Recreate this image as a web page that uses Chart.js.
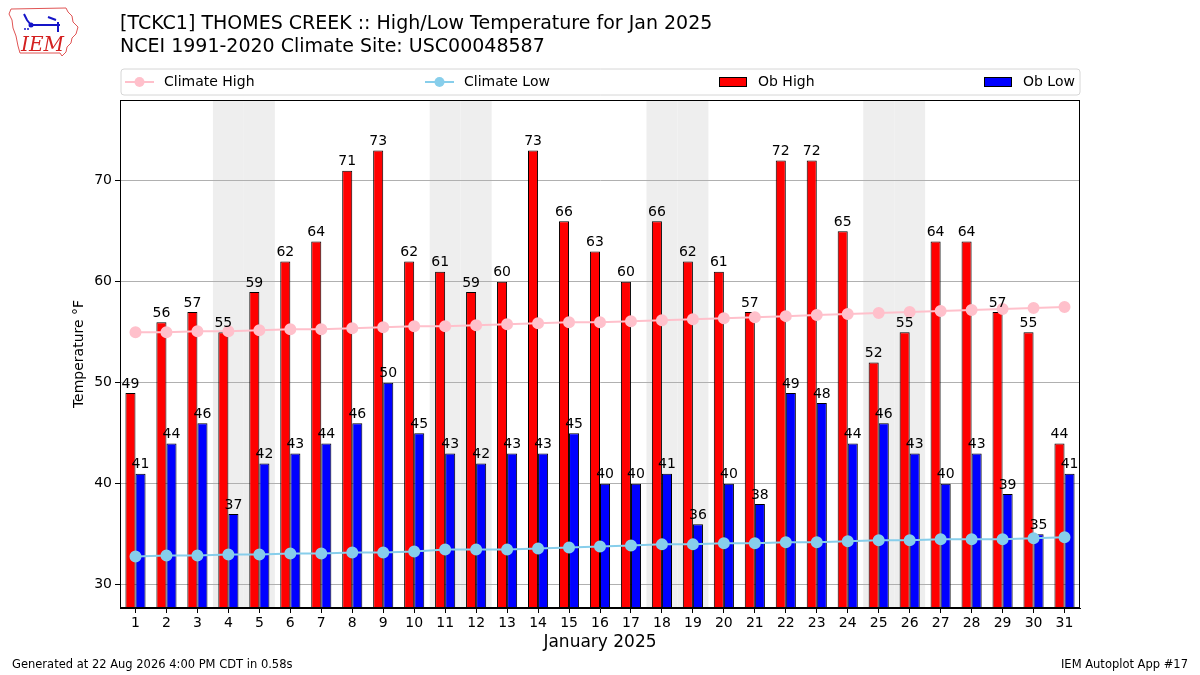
<!DOCTYPE html>
<html>
<head>
<meta charset="utf-8">
<script src="https://cdn.jsdelivr.net/npm/chart.js@4.4.1/dist/chart.umd.min.js"></script>
<style>
  html, body { margin: 0; padding: 0; background: #fff; }
  #wrap { width: 1200px; height: 675px; }
</style>
</head>
<body>
<div id="wrap"><canvas id="chart" width="1200" height="675"></canvas></div>
<script>
// TCKC1 Thomes Creek, January 2025
const days = ['1','2','3','4','5','6','7','8','9','10','11','12','13','14','15','16',
              '17','18','19','20','21','22','23','24','25','26','27','28','29','30','31'];
const obHigh = [49,56,57,55,59,62,64,71,73,62,61,59,60,73,66,63,60,66,62,61,57,72,72,65,52,55,64,64,57,55,44];
const obLow = [41,44,46,37,42,43,44,46,50,45,43,42,43,43,45,40,40,41,36,40,38,49,48,44,46,43,40,43,39,35,41];
const climateHigh = [55.0,55.0,55.1,55.1,55.2,55.3,55.3,55.4,55.5,55.6,55.6,55.7,55.8,55.9,56.0,56.0,
                     56.1,56.2,56.3,56.4,56.5,56.6,56.7,56.8,56.9,57.0,57.1,57.2,57.3,57.4,57.5];
const climateLow = [32.8,32.9,32.9,33.0,33.0,33.1,33.1,33.2,33.2,33.3,33.5,33.5,33.5,33.6,33.7,33.8,
                    33.9,34.0,34.0,34.1,34.1,34.2,34.2,34.3,34.4,34.4,34.5,34.5,34.5,34.6,34.7];
const weekendDays = ['4','5','11','12','18','19','25','26'];
const yTicks = [30, 40, 50, 60, 70];

const titleLines = [
    '[TCKC1] THOMES CREEK :: High/Low Temperature for Jan 2025',
    'NCEI 1991-2020 Climate Site: USC00048587'
];
const footerLeft = 'Generated at 22 Aug 2026 4:00 PM CDT in 0.58s';
const footerRight = 'IEM Autoplot App #17';

const FONT = '"DejaVu Sans", Verdana, sans-serif';

function drawLogo(ctx) {
    ctx.save();
    // rough Iowa outline
    ctx.strokeStyle = '#e05555';
    ctx.lineWidth = 1;
    ctx.beginPath();
    ctx.moveTo(11, 9);
    ctx.lineTo(66, 8);
    ctx.lineTo(68, 12);
    ctx.lineTo(72, 16);
    ctx.lineTo(73, 22);
    ctx.lineTo(78, 27);
    ctx.lineTo(76, 34);
    ctx.lineTo(72, 38);
    ctx.lineTo(71, 43);
    ctx.lineTo(67, 47);
    ctx.lineTo(66, 52);
    ctx.lineTo(62, 56);
    ctx.lineTo(60, 53);
    ctx.lineTo(20, 53);
    ctx.lineTo(18, 46);
    ctx.lineTo(16, 36);
    ctx.lineTo(13, 28);
    ctx.lineTo(12, 20);
    ctx.lineTo(9, 14);
    ctx.closePath();
    ctx.stroke();
    // blue station glyph
    ctx.strokeStyle = '#1515c8';
    ctx.fillStyle = '#1515c8';
    ctx.lineWidth = 2;
    ctx.beginPath();
    ctx.moveTo(31, 25); ctx.lineTo(60, 25);
    ctx.moveTo(24, 14); ctx.lineTo(27, 20); ctx.lineTo(31, 25);
    ctx.moveTo(58, 22); ctx.lineTo(58, 32);
    ctx.moveTo(48, 17); ctx.lineTo(56, 20);
    ctx.stroke();
    ctx.beginPath(); ctx.arc(31, 25, 2.5, 0, Math.PI * 2); ctx.fill();
    ctx.beginPath(); ctx.arc(25, 29, 1, 0, Math.PI * 2); ctx.fill();
    ctx.beginPath(); ctx.arc(28, 29, 1, 0, Math.PI * 2); ctx.fill();
    // IEM text
    ctx.fillStyle = '#d42020';
    ctx.font = 'italic 20px "DejaVu Serif", "Liberation Serif", serif';
    ctx.textAlign = 'left';
    ctx.textBaseline = 'alphabetic';
    ctx.fillText('IEM', 21, 51);
    ctx.restore();
}

const decorPlugin = {
    id: 'decor',
    beforeDraw(chart) {
        const { ctx, chartArea: a, scales: { x } } = chart;
        ctx.save();
        ctx.fillStyle = '#ffffff';
        ctx.fillRect(0, 0, chart.width, chart.height);
        // weekend shading
        const half = (x.getPixelForValue(1) - x.getPixelForValue(0)) / 2;
        ctx.fillStyle = '#eeeeee';
        weekendDays.forEach(d => {
            const px = x.getPixelForValue(days.indexOf(d));
            ctx.fillRect(px - half, a.top, half * 2, a.bottom - a.top);
        });
        ctx.restore();
    },
    afterDatasetsDraw(chart) {
        // value labels over the bars
        const ctx = chart.ctx;
        ctx.save();
        ctx.font = '14px ' + FONT;
        ctx.fillStyle = '#000';
        ctx.textAlign = 'center';
        ctx.textBaseline = 'bottom';
        chart.data.datasets.forEach((ds, i) => {
            if (ds.type !== 'bar') return;
            chart.getDatasetMeta(i).data.forEach((bar, j) => {
                ctx.fillText(String(ds.data[j]), bar.x, bar.y - 2);
            });
        });
        ctx.restore();
    },
    afterDraw(chart) {
        const { ctx, chartArea: a } = chart;
        ctx.save();
        // frame
        ctx.strokeStyle = '#000';
        ctx.lineWidth = 1;
        ctx.strokeRect(a.left + 0.5, a.top + 0.5, a.right - a.left - 1, a.bottom - a.top - 1);

        // titles
        ctx.fillStyle = '#000';
        ctx.font = '19px ' + FONT;
        ctx.textAlign = 'left';
        ctx.textBaseline = 'middle';
        ctx.fillText(titleLines[0], a.left, 24);
        ctx.fillText(titleLines[1], a.left, 47);

        // legend
        const lx = a.left + 1, ly = 69, lw = a.right - a.left - 1, lh = 26;
        ctx.beginPath();
        ctx.roundRect(lx, ly, lw, lh, 3);
        ctx.fillStyle = '#ffffff';
        ctx.fill();
        ctx.strokeStyle = '#d6d6d6';
        ctx.stroke();
        const cy = ly + lh / 2;
        const slots = [125, 425, 719, 984];
        ctx.font = '14px ' + FONT;
        chart.data.datasets.forEach((ds, i) => {
            const sx = slots[i];
            if (ds.type === 'line') {
                ctx.strokeStyle = ds.borderColor;
                ctx.lineWidth = 2;
                ctx.beginPath();
                ctx.moveTo(sx, cy); ctx.lineTo(sx + 29, cy);
                ctx.stroke();
                ctx.fillStyle = ds.pointBackgroundColor;
                ctx.beginPath();
                ctx.arc(sx + 14.5, cy, 5, 0, Math.PI * 2);
                ctx.fill();
            } else {
                ctx.fillStyle = ds.backgroundColor;
                ctx.fillRect(sx, cy - 5, 28, 10);
                ctx.strokeStyle = '#000';
                ctx.lineWidth = 1;
                ctx.strokeRect(sx + 0.5, cy - 4.5, 27, 9);
            }
            ctx.fillStyle = '#000';
            ctx.textAlign = 'left';
            ctx.fillText(ds.label, sx + 39, cy);
        });

        // footer
        ctx.font = '11.5px ' + FONT;
        ctx.fillText(footerLeft, 12, 665);
        ctx.textAlign = 'right';
        ctx.fillText(footerRight, 1188, 665);

        drawLogo(ctx);
        ctx.restore();
    }
};

const ctx = document.getElementById('chart').getContext('2d');
new Chart(ctx, {
    data: {
        labels: days,
        datasets: [
            {
                type: 'line',
                label: 'Climate High',
                data: climateHigh,
                borderColor: '#ffc0cb',
                pointBackgroundColor: '#ffc0cb',
                pointBorderColor: '#ffc0cb',
                borderWidth: 2,
                pointRadius: 5,
                tension: 0,
                order: 1
            },
            {
                type: 'line',
                label: 'Climate Low',
                data: climateLow,
                borderColor: '#87ceeb',
                pointBackgroundColor: '#87ceeb',
                pointBorderColor: '#87ceeb',
                borderWidth: 2,
                pointRadius: 5,
                tension: 0,
                order: 1
            },
            {
                type: 'bar',
                label: 'Ob High',
                data: obHigh,
                backgroundColor: '#ff0000',
                borderColor: '#000000',
                borderWidth: 1,
                categoryPercentage: 0.65,
                barPercentage: 1.0,
                order: 2
            },
            {
                type: 'bar',
                label: 'Ob Low',
                data: obLow,
                backgroundColor: '#0000ff',
                borderColor: '#000000',
                borderWidth: 1,
                categoryPercentage: 0.65,
                barPercentage: 1.0,
                order: 2
            }
        ]
    },
    options: {
        responsive: false,
        animation: false,
        devicePixelRatio: 1,
        layout: { padding: { left: 68, right: 120, top: 100, bottom: 18 } },
        plugins: {
            legend: { display: false },
            title: { display: false },
            tooltip: { enabled: false }
        },
        scales: {
            x: {
                grid: { drawOnChartArea: false, offset: false, tickLength: 5, color: '#000' },
                border: { color: '#000' },
                ticks: {
                    color: '#000',
                    font: { family: FONT, size: 14 },
                    autoSkip: false,
                    maxRotation: 0,
                    padding: 2
                },
                title: {
                    display: true,
                    text: 'January 2025',
                    color: '#000',
                    font: { family: FONT, size: 17 },
                    padding: { top: 2, bottom: 4 }
                },
                afterFit: s => { s.height = 49; }
            },
            y: {
                min: 27.7,
                max: 78,
                afterBuildTicks: s => { s.ticks = yTicks.map(v => ({ value: v })); },
                grid: { color: '#b0b0b0', tickColor: '#000', tickLength: 5 },
                border: { color: '#000' },
                ticks: {
                    color: '#000',
                    font: { family: FONT, size: 14 },
                    padding: 3
                },
                title: {
                    display: true,
                    text: 'Temperature °F',
                    color: '#000',
                    font: { family: FONT, size: 14 },
                    padding: { top: 3, bottom: 0 }
                },
                afterFit: s => { s.width = 52; }
            }
        }
    },
    plugins: [decorPlugin]
});
</script>
</body>
</html>
